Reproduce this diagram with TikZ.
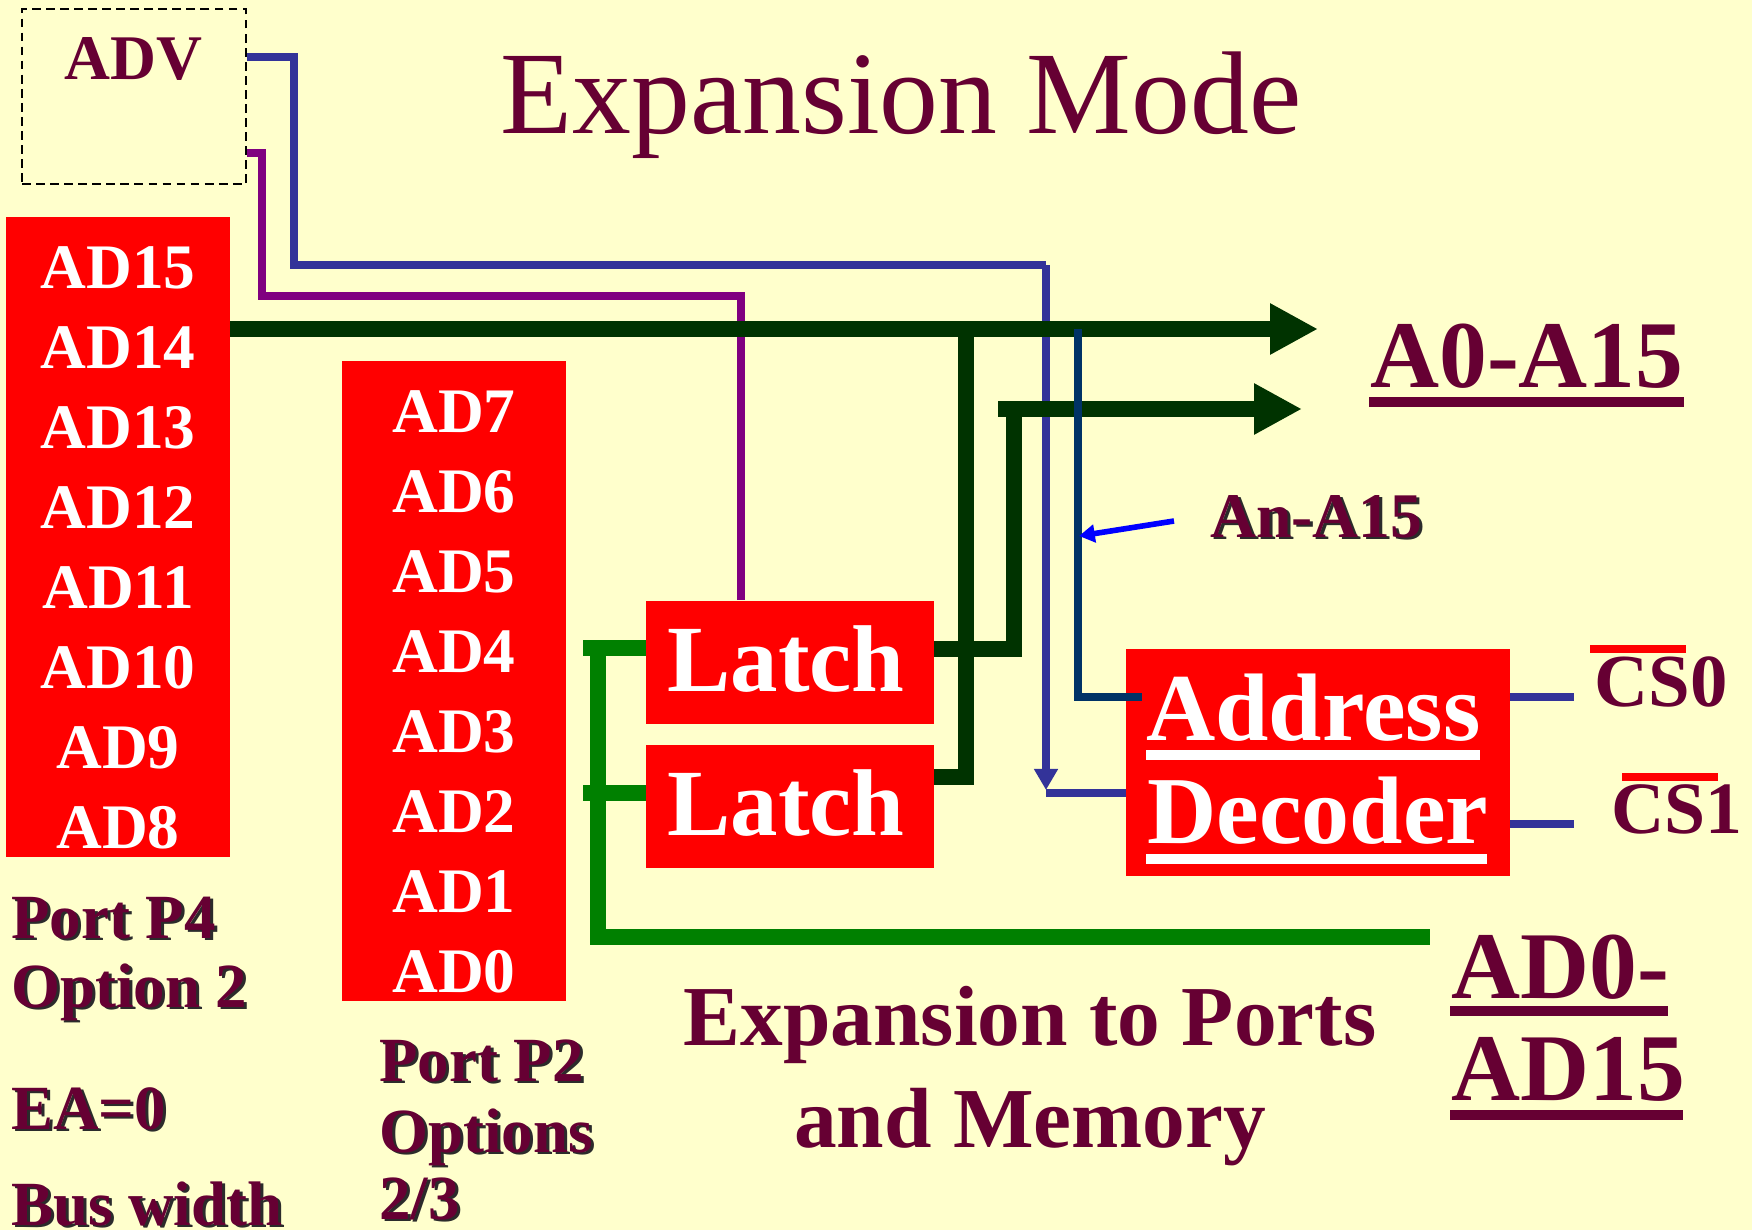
\documentclass[tikz,border=0pt]{standalone}
\usepackage{fontspec}
\setmainfont{Liberation Serif}
\usetikzlibrary{arrows.meta}

\definecolor{slidebg}{HTML}{FFFFCC}
\definecolor{wine}{HTML}{660033}
\definecolor{busdark}{HTML}{003300}
\definecolor{busgreen}{HTML}{008000}
\definecolor{busblue}{HTML}{333399}
\definecolor{buspurple}{HTML}{800080}
\definecolor{busnavy}{HTML}{003366}
\definecolor{shadowgray}{HTML}{2B2B2B}

\newcommand{\shtxt}[1]{\leavevmode\rlap{\kern1.7pt\raisebox{-1.7pt}{\color{shadowgray}#1}}#1}

\tikzset{
  redbox/.style={fill=red,inner sep=0pt},
  pinlabel/.style={anchor=base,text=white,font=\bfseries\fontsize{36.1}{36.1}\selectfont,inner sep=0pt},
  bigwhite/.style={anchor=base west,text=white,font=\bfseries\fontsize{54}{54}\selectfont,inner sep=0pt},
  winetxt/.style={text=wine,inner sep=0pt,anchor=base west,font=\bfseries\fontsize{35.8}{35.8}\selectfont},
  winebig/.style={winetxt,font=\bfseries\fontsize{54.4}{54.4}\selectfont},
  winemid/.style={winetxt,anchor=base,font=\bfseries\fontsize{48.6}{48.6}\selectfont},
  thinbus/.style={line width=4.5pt},
  thickbus/.style={line width=9.1pt,busdark},
  greenbus/.style={line width=9.1pt,busgreen},
  bigtip/.style={-{Triangle[width=27.3pt,length=27.3pt]}},
}

\begin{document}
\begin{tikzpicture}[x=0.02cm,y=-0.02cm]
  \useasboundingbox (0,0) rectangle (1752,1230);
  \fill[slidebg] (0,0) rectangle (1752,1230);

  % Title and dashed box
  \node[winetxt,anchor=base,font=\fontsize{67}{67}\selectfont] (title) at (901,133) {Expansion Mode};
  \node[draw,dash pattern=on 5pt off 3pt,line width=1pt,minimum width=224*0.02cm,minimum height=175*0.02cm,inner sep=0pt] (adv) at (134,96.5) {};
  \node[winetxt,anchor=base,font=\bfseries\fontsize{36.2}{36.2}\selectfont] (advtext) at (133.5,80) {ADV};

  % Port blocks
  \node[redbox,minimum width=224*0.02cm,minimum height=640*0.02cm] (p4) at (118,537) {};
  \node[redbox,minimum width=224*0.02cm,minimum height=640*0.02cm] (p2) at (454,681) {};
  \foreach \i [count=\n from 0] in {15,14,13,12,11,10,9,8}
    \node[pinlabel] (ad\i) at (118,288+80*\n) {AD\i};
  \foreach \i [count=\n from 0] in {7,6,5,4,3,2,1,0}
    \node[pinlabel] (ad\i) at (454,432+80*\n) {AD\i};

  % Latches and decoder
  \node[redbox,minimum width=288*0.02cm,minimum height=123*0.02cm] (latch1) at (790,662) {};
  \node[redbox,minimum width=288*0.02cm,minimum height=123*0.02cm] (latch2) at (790,806.5) {};
  \node[bigwhite] (latchtext1) at (667,691) {Latch};
  \node[bigwhite] (latchtext2) at (667,835) {Latch};
  \node[redbox,minimum width=384*0.02cm,minimum height=227*0.02cm] (decoder) at (1318,762.5) {};
  \node[bigwhite,font=\bfseries\fontsize{54.6}{54.6}\selectfont] (address) at (1146,740) {Address};
  \node[bigwhite,font=\bfseries\fontsize{54.6}{54.6}\selectfont] (decodertext) at (1147,843) {Decoder};
  \fill[white] (1146,750) rectangle (1480,760);
  \fill[white] (1146,854) rectangle (1487,864);

  % Control lines, under the buses
  \draw[thinbus,busblue] (adv.east |- 0,57) -| (294,265) -- (1046,265);
  \draw[thinbus,busblue,-{Triangle[width=13pt,length=12pt]}] (1046,265) -- (1046,790);
  \draw[thinbus,busblue] (1046,793) -- (decoder.west |- 0,793);
  \draw[thinbus,buspurple] (adv.east |- 0,153) -| (262,296) -- (741,296) -- (741,0 |- latch1.north);

  % Address buses
  \draw[thickbus,bigtip] (p4.east |- 0,329) -- (1318,329);
  \draw[thickbus,bigtip] (998,409) -- (1302,409);
  \draw[thickbus] (latch1.east |- 0,649) -- (1014,649) -- (1014,409);
  \draw[thickbus] (latch2.east |- 0,777) -- (966,777) -- (966,329);

  % Data bus
  \draw[greenbus] (583,648) -- (latch1.west |- 0,648);
  \draw[greenbus] (583,793) -- (latch2.west |- 0,793);
  \draw[greenbus] (598,648) -- (598,937) -- (1430,937);

  % Decoder lines
  \draw[thinbus,busnavy] (1078,329) -- (1078,697) -- (1142,697);
  \draw[thinbus,busblue] (decoder.east |- 0,697) -- (1574,697);
  \draw[thinbus,busblue] (decoder.east |- 0,824) -- (1574,824);
  \coordinate (anfrom) at (1174,521);
  \coordinate (anto) at (1079,536);
  \draw[line width=3.2pt,blue,-{Triangle[width=10pt,length=9pt]}] (anfrom) -- (anto);

  % Output labels
  \node[winebig] (a0a15) at (1370,387) {A0-A15};
  \fill[wine] (1369,397) rectangle (1684,407);
  \node[winetxt,font=\bfseries\fontsize{36.2}{36.2}\selectfont] (ana15) at (1210,537) {\shtxt{An-A15}};
  \node[winetxt,font=\bfseries\fontsize{42.6}{42.6}\selectfont] (cs0) at (1594,706) {CS0};
  \fill[red] (1590,645) rectangle (1686,653);
  \node[winetxt,font=\bfseries\fontsize{42}{42}\selectfont] (cs1) at (1611,833) {CS1};
  \fill[red] (1622,773) rectangle (1718,781);
  \node[winebig] (ad0to) at (1451,998) {AD0-};
  \fill[wine] (1450,1006) rectangle (1668,1016);
  \node[winebig] (ad15to) at (1451,1100) {AD15};
  \fill[wine] (1450,1110) rectangle (1683,1120);
  \node[winemid] (exptext1) at (1030,1045) {Expansion to Ports};
  \node[winemid] (exptext2) at (1030,1147) {and Memory};

  % Port notes
  \node[winetxt] (portp4) at (11,938) {\shtxt{Port P4}};
  \node[winetxt] (option2) at (11,1007) {\shtxt{Option 2}};
  \node[winetxt] (ea0) at (11,1129) {\shtxt{EA=0}};
  \node[winetxt] (buswidth) at (11,1225) {\shtxt{Bus width}};
  \node[winetxt] (portp2) at (379,1081) {\shtxt{Port P2}};
  \node[winetxt] (options) at (379,1152) {\shtxt{Options}};
  \node[winetxt] (opt23) at (379,1219) {\shtxt{2/3}};
\end{tikzpicture}
\end{document}
